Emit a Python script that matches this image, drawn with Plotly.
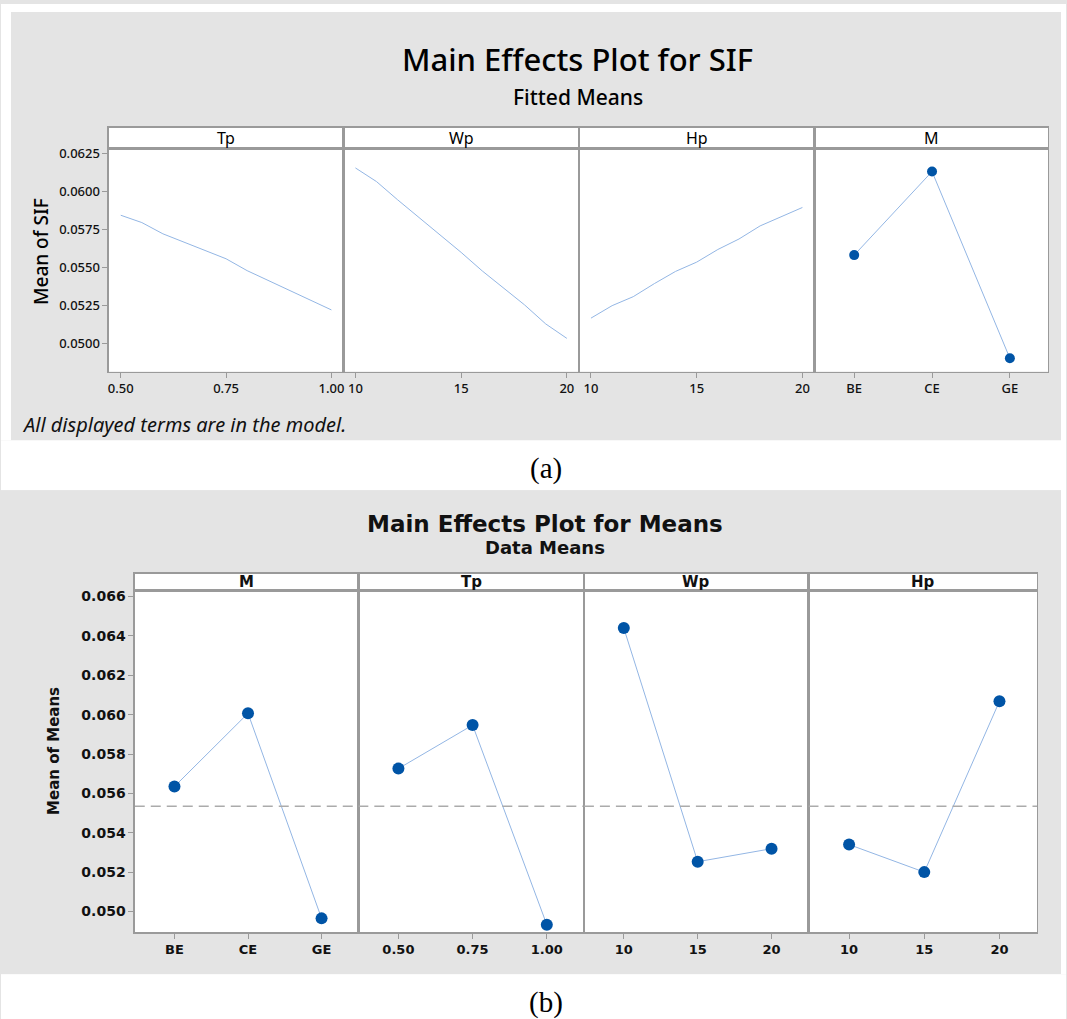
import plotly.graph_objects as go

W, H = 1067, 1019

# ---------------- data: panel (a) fitted means ----------------
tp_a_x = [0.50, 0.55, 0.60, 0.65, 0.70, 0.75, 0.80, 0.85, 0.90, 0.95, 1.00]
tp_a_y = [0.05844, 0.05796, 0.05722, 0.05666, 0.05614, 0.05558, 0.05480, 0.05416, 0.05351, 0.05290, 0.05222]
wp_a_x = [10, 11, 12, 13, 14, 15, 16, 17, 18, 19, 20]
wp_a_y = [0.06155, 0.06065, 0.05945, 0.05830, 0.05720, 0.05600, 0.05478, 0.05365, 0.05255, 0.05130, 0.05035]
hp_a_x = [10, 11, 12, 13, 14, 15, 16, 17, 18, 19, 20]
hp_a_y = [0.05168, 0.05250, 0.05309, 0.05395, 0.05475, 0.05536, 0.05619, 0.05688, 0.05774, 0.05833, 0.05895]
m_levels = ["BE", "CE", "GE"]
m_a_y = [0.05582, 0.06131, 0.04904]

a_facets = ["Tp", "Wp", "Hp", "M"]
a_yticks = [0.0500, 0.0525, 0.0550, 0.0575, 0.0600, 0.0625]
tp_ticks = [0.50, 0.75, 1.00]
tp_ticktext = ["0.50", "0.75", "1.00"]
wh_ticks = [10, 15, 20]
wh_ticktext = ["10", "15", "20"]

# ---------------- data: panel (b) data means ----------------
b_facets = ["M", "Tp", "Wp", "Hp"]
tp_b_levels = ["0.50", "0.75", "1.00"]
wp_b_levels = ["10", "15", "20"]
hp_b_levels = ["10", "15", "20"]
m_b_y = [0.05635, 0.06007, 0.04965]
tp_b_y = [0.05726, 0.05947, 0.04933]
wp_b_y = [0.06440, 0.05253, 0.05319]
hp_b_y = [0.05340, 0.05200, 0.06068]
grand_mean = 0.05535
b_yticks = [0.050, 0.052, 0.054, 0.056, 0.058, 0.060, 0.062, 0.064, 0.066]
frac_range = [0, 1]   # full-width span (fraction of facet) for the reference line

# ---------------- styling ----------------
BG = "#e4e4e4"
FRAME = "#9a9a9a"
LINE_C = "#93b6e4"
MARK_C = "#0054a6"
FA = "Noto Sans"
FB = "DejaVu Sans"


def px(x):
    return x / W


def py(y):
    return 1 - y / H


fig = go.Figure()
layout = {}
annotations = []
counter = {"n": 8}   # axes 1..8 are the facets


def add_blank(x0, x1, y0, y1, framed):
    """Empty white subplot (used for white margins and facet header strips)."""
    counter["n"] += 1
    k = str(counter["n"])
    common = dict(range=[0, 1], showgrid=False, zeroline=False, showticklabels=False,
                  ticks="", showline=framed, mirror=framed, linecolor=FRAME, linewidth=1.3,
                  fixedrange=True)
    layout["xaxis" + k] = dict(domain=[px(x0), px(x1)], anchor="y" + k, **common)
    layout["yaxis" + k] = dict(domain=[py(y1), py(y0)], anchor="x" + k, **common)
    fig.add_trace(go.Scatter(x=[], y=[], xaxis="x" + k, yaxis="y" + k,
                             showlegend=False, hoverinfo="skip"))


# white page margins / gap between the two grey panels
for (x0, x1, y0, y1) in [(0, W, 0, 8), (0, 10, 8, 438), (1062, W, 8, 974),
                         (0, 1062, 438, 488), (0, W, 974, H)]:
    add_blank(x0, x1, y0, y1, False)

# ---------- panel (a) ----------
a_edges = [108, 343, 579, 815, 1049]
a_top, a_head, a_bot = 124, 145, 369
a_series = [
    (tp_a_x, tp_a_y, [0.4716, 1.0284], tp_ticks, tp_ticktext, "lines"),
    (wp_a_x, wp_a_y, [9.43, 20.57], wh_ticks, wh_ticktext, "lines"),
    (hp_a_x, hp_a_y, [9.43, 20.57], wh_ticks, wh_ticktext, "lines"),
    (m_levels, m_a_y, [-0.51, 2.49], None, None, "lines+markers"),
]
for i, (xs, ys, xr, tv, tt, mode) in enumerate(a_series):
    n = i + 1
    sfx = "" if n == 1 else str(n)
    fig.add_trace(go.Scatter(x=xs, y=ys, mode=mode, xaxis="x" + sfx, yaxis="y" + sfx,
                             line=dict(color=LINE_C, width=1),
                             marker=dict(color=MARK_C, size=10), showlegend=False,
                             hoverinfo="skip"))
    xa = dict(domain=[px(a_edges[i]), px(a_edges[i + 1])], range=xr, anchor="y" + sfx,
              showgrid=False, zeroline=False, showline=True, linecolor=FRAME, linewidth=1.3,
              mirror=True, ticks="outside", ticklen=5, tickcolor=FRAME,
              tickfont=dict(family=FA, size=13, color="#111", weight=500))
    if tv is not None:
        xa.update(tickmode="array", tickvals=tv, ticktext=tt)
    else:
        xa.update(type="category", categoryorder="array", categoryarray=m_levels)
    ya = dict(domain=[py(a_bot), py(a_head)], range=[0.04817, 0.06283], anchor="x" + sfx,
              showgrid=False, zeroline=False, showline=True, linecolor=FRAME, linewidth=1.3,
              mirror=True, tickmode="array", tickvals=a_yticks,
              ticktext=[f"{v:.4f}" for v in a_yticks],
              tickfont=dict(family=FA, size=13, color="#111", weight=500))
    if n == 1:
        ya.update(ticks="outside", ticklen=5, tickcolor=FRAME, showticklabels=True)
    else:
        ya.update(ticks="", showticklabels=False)
    layout["xaxis" + sfx] = xa
    layout["yaxis" + sfx] = ya
    add_blank(a_edges[i], a_edges[i + 1], a_top, a_head, True)
    annotations.append(dict(text=a_facets[i], xref="paper", yref="paper",
                            x=px((a_edges[i] + a_edges[i + 1]) / 2), y=py((a_top + a_head) / 2),
                            showarrow=False, font=dict(family=FA, size=16, color="#000"),
                            xanchor="center", yanchor="middle"))

annotations += [
    dict(text="Main Effects Plot for SIF", xref="paper", yref="paper", x=px(578), y=py(55),
         showarrow=False, font=dict(family=FA, size=31, color="#000", weight=500),
         xanchor="center", yanchor="middle"),
    dict(text="Fitted Means", xref="paper", yref="paper", x=px(578), y=py(93),
         showarrow=False, font=dict(family=FA, size=21, color="#000", weight=500),
         xanchor="center", yanchor="middle"),
    dict(text="Mean of SIF", xref="paper", yref="paper", x=px(40), y=py(248), textangle=-90,
         showarrow=False, font=dict(family=FA, size=19, color="#000", weight=500),
         xanchor="center", yanchor="middle"),
    dict(text="<i>All displayed terms are in the model.</i>", xref="paper", yref="paper", x=px(19), y=py(422),
         showarrow=False, font=dict(family=FA, size=20, color="#111"), xanchor="left", yanchor="middle"),
    dict(text="(a)", xref="paper", yref="paper", x=px(546), y=py(466),
         showarrow=False, font=dict(family="Liberation Serif", size=29, color="#000"),
         xanchor="center", yanchor="middle"),
    dict(text="(b)", xref="paper", yref="paper", x=px(546), y=py(1002),
         showarrow=False, font=dict(family="Liberation Serif", size=29, color="#000"),
         xanchor="center", yanchor="middle"),
]

# ---------- panel (b) ----------
b_edges = [134, 358, 584, 809, 1038]
b_top, b_head, b_bot = 572, 589, 932
b_series = [
    (m_levels, m_b_y),
    (tp_b_levels, tp_b_y),
    (wp_b_levels, wp_b_y),
    (hp_b_levels, hp_b_y),
]
overlay_ids = []
for i, (xs, ys) in enumerate(b_series):
    n = i + 5
    sfx = str(n)
    layout["xaxis" + sfx] = dict(domain=[px(b_edges[i]), px(b_edges[i + 1])], range=[-0.54, 2.5],
                                 type="category", categoryorder="array", categoryarray=list(xs),
                                 anchor="y" + sfx, showgrid=False, zeroline=False, showline=True,
                                 linecolor=FRAME, linewidth=1.3, mirror=True, ticks="outside",
                                 ticklen=5, tickcolor=FRAME,
                                 tickfont=dict(family=FB, size=13, color="#111", weight="bold"))
    ya = dict(domain=[py(b_bot), py(b_head)], range=[0.04894, 0.0663], anchor="x" + sfx,
              showgrid=False, zeroline=False, showline=True, linecolor=FRAME, linewidth=1.3,
              mirror=True, tickmode="array", tickvals=b_yticks,
              ticktext=[f"{v:.3f}" for v in b_yticks],
              tickfont=dict(family=FB, size=14, color="#111", weight="bold"))
    if n == 5:
        ya.update(ticks="outside", ticklen=5, tickcolor=FRAME, showticklabels=True)
    else:
        ya.update(ticks="", showticklabels=False)
    layout["yaxis" + sfx] = ya
    add_blank(b_edges[i], b_edges[i + 1], b_top, b_head, True)
    annotations.append(dict(text="<b>%s</b>" % b_facets[i], xref="paper", yref="paper",
                            x=px((b_edges[i] + b_edges[i + 1]) / 2), y=py((b_top + b_head) / 2),
                            showarrow=False, font=dict(family=FB, size=15, color="#111"),
                            xanchor="center", yanchor="middle"))

# overlay x-axes (fractional 0..1) carrying the dashed grand-mean line across each facet
for i in range(4):
    counter["n"] += 1
    k = str(counter["n"])
    base = str(i + 5)
    layout["xaxis" + k] = dict(overlaying="x" + base, range=frac_range, visible=False,
                               fixedrange=True)
    fig.add_trace(go.Scatter(x=frac_range, y=[grand_mean] * len(frac_range), mode="lines",
                             xaxis="x" + k, yaxis="y" + base,
                             line=dict(color="#ababab", width=1.5, dash="10px,6px"),
                             showlegend=False, hoverinfo="skip"))

# data traces for panel (b), added last so they sit above the dashed line
for i, (xs, ys) in enumerate(b_series):
    sfx = str(i + 5)
    fig.add_trace(go.Scatter(x=xs, y=ys, mode="lines+markers", xaxis="x" + sfx, yaxis="y" + sfx,
                             line=dict(color=LINE_C, width=1),
                             marker=dict(color=MARK_C, size=12), showlegend=False,
                             hoverinfo="skip"))

annotations += [
    dict(text="Main Effects Plot for Means", xref="paper", yref="paper", x=px(545), y=py(522),
         showarrow=False, font=dict(family=FB, size=23, color="#111", weight="bold"),
         xanchor="center", yanchor="middle"),
    dict(text="Data Means", xref="paper", yref="paper", x=px(545), y=py(546),
         showarrow=False, font=dict(family=FB, size=18, color="#111", weight="bold"),
         xanchor="center", yanchor="middle"),
    dict(text="Mean of Means", xref="paper", yref="paper", x=px(53), y=py(750), textangle=-90,
         showarrow=False, font=dict(family=FB, size=15, color="#111", weight="bold"),
         xanchor="center", yanchor="middle"),
]

fig.update_layout(width=W, height=H, margin=dict(l=0, r=0, t=0, b=0),
                  paper_bgcolor=BG, plot_bgcolor="#ffffff",
                  annotations=annotations, **layout)

fig.write_html("out.html", config={"staticPlot": True})
